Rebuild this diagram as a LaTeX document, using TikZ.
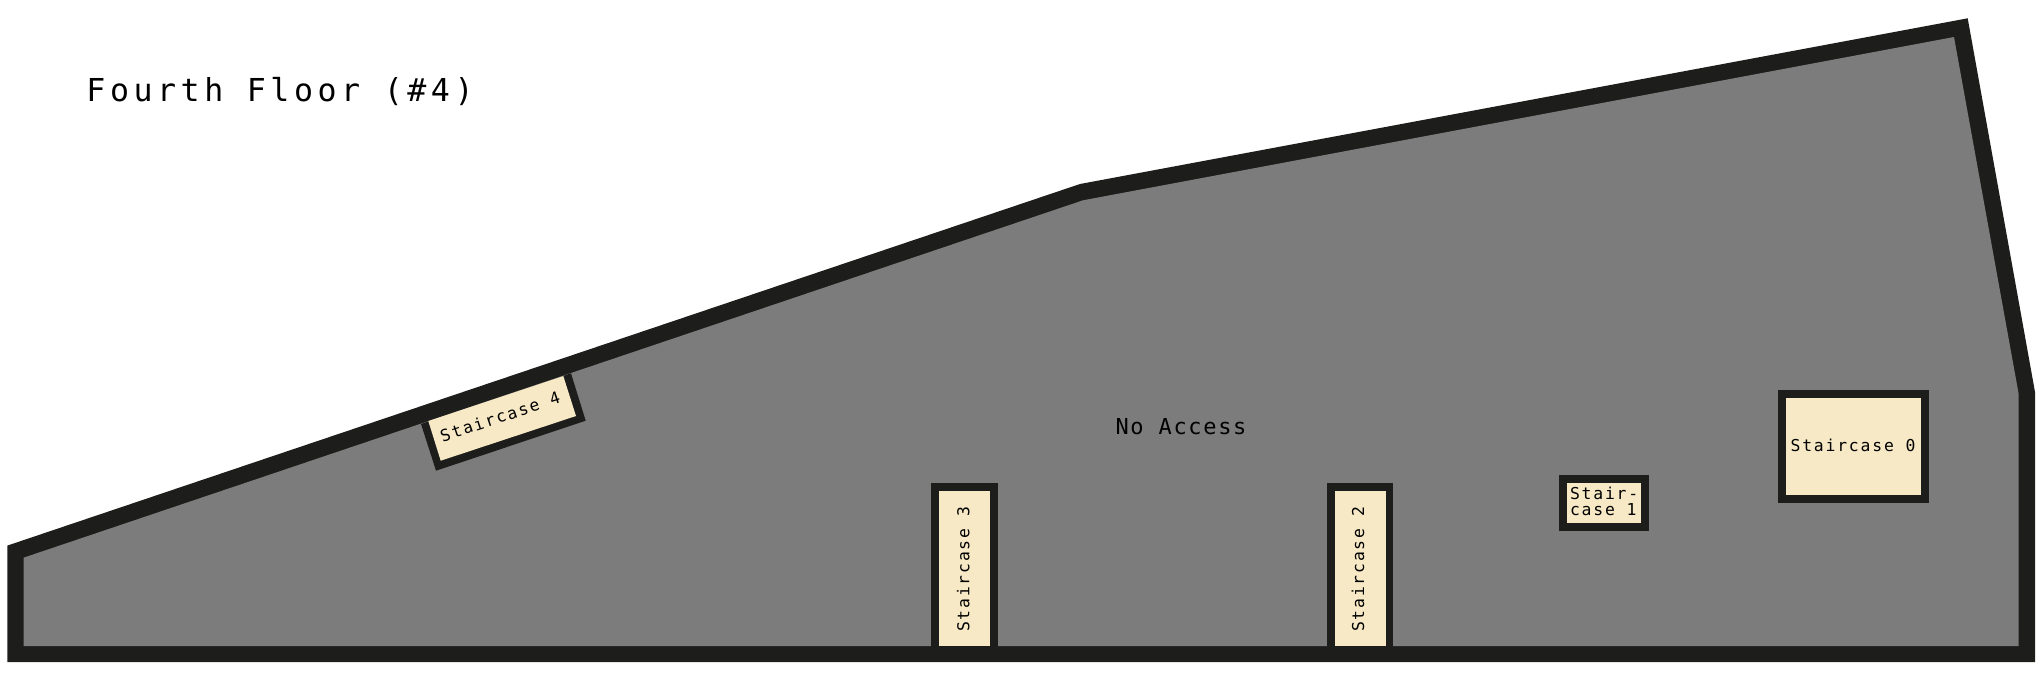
\documentclass[tikz,border=0pt]{standalone}
\usepackage{fontspec}
\definecolor{wallc}{HTML}{1D1D1B}
\definecolor{floorc}{HTML}{7C7C7C}
\definecolor{stairc}{HTML}{F7E9C5}
\newfontfamily\titlefont[LetterSpace=14.4]{DejaVu Sans Mono}
\newfontfamily\labelfont[LetterSpace=11]{DejaVu Sans Mono}
\newfontfamily\accessfont[LetterSpace=7.6]{DejaVu Sans Mono}
\tikzset{
  wallshape/.style={fill=wallc,draw=none},
  floorshape/.style={fill=floorc,draw=none},
  stairshape/.style={fill=stairc,draw=none},
  txt/.style={inner sep=0pt,outer sep=0pt,anchor=base,text=black,font=\labelfont\fontsize{8.2}{8}\selectfont,align=left},
}
\begin{document}
\begin{tikzpicture}[x=0.5pt,y=-0.5pt]
\useasboundingbox (0,0) rectangle (2042,682);
% outer wall and floor
\fill[wallshape] (7.3,545.6) -- (1080,184) -- (1967.7,18.3) -- (2035,392) -- (2035,662) -- (7.3,662) -- cycle;
\fill[floorshape] (23.5,557.7) -- (1083,200.3) -- (1954,37) -- (2018.5,393) -- (2018.5,646) -- (23.5,646) -- cycle;
% staircase 4
\fill[wallshape] (421,424) -- (571,373.3) -- (585.7,420.7) -- (436,470.7) -- cycle;
\fill[stairshape] (428.3,421) -- (563.3,376) -- (576,416) -- (440.7,460.7) -- cycle;
% staircase 3
\fill[wallshape] (931,483.3) rectangle (998,650);
\fill[stairshape] (939,491.3) rectangle (990,646);
% staircase 2
\fill[wallshape] (1326.7,483.3) rectangle (1393.3,650);
\fill[stairshape] (1334.7,491.3) rectangle (1385.7,646);
% staircase 1
\fill[wallshape] (1558.8,474.7) rectangle (1648.6,530.7);
\fill[stairshape] (1566.7,482.7) rectangle (1641,522.7);
% staircase 0
\fill[wallshape] (1777.6,389.7) rectangle (1928.6,502.7);
\fill[stairshape] (1785.5,397.7) rectangle (1921,494.7);
% labels
\node[txt,font=\titlefont\fontsize{15.8}{20}\selectfont] (title) at (280,101) {Fourth Floor (\#4)};
\node[txt,font=\accessfont\fontsize{11}{12}\selectfont] (access) at (1181,434.5) {No Access};
\node[txt] (s0) at (1853,451.5) {Staircase 0};
\node[txt,anchor=base west] (s1) at (1570,515.5) {Stair-\\case 1};
\node[txt,rotate=90,anchor=base] (s2) at (1364,569.5) {Staircase 2};
\node[txt,rotate=90,anchor=base] (s3) at (969.3,569.5) {Staircase 3};
\node[txt,rotate=18.4,anchor=center] (s4) at (500,416.7) {Staircase 4};
\end{tikzpicture}
\end{document}
